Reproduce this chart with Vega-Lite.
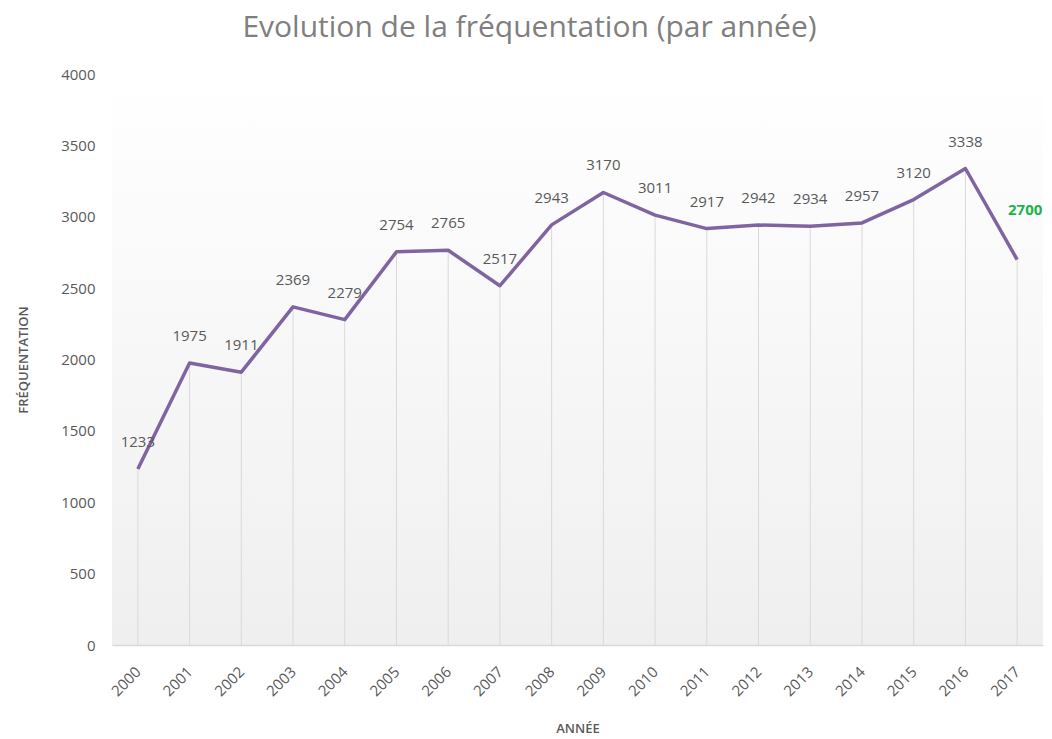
{
  "$schema": "https://vega.github.io/schema/vega-lite/v6.json",
  "width": 931,
  "height": 571,
  "autosize": {"type": "none"},
  "padding": {"left": 112, "top": 74, "right": 9, "bottom": 94},
  "background": "white",
  "title": {
    "text": "Evolution de la fréquentation (par année)",
    "font": "Open Sans",
    "fontSize": 30,
    "fontWeight": "normal",
    "color": "#7f7f7f",
    "anchor": "middle",
    "dx": -48,
    "offset": 24
  },
  "config": {
    "view": {
      "stroke": null,
      "fill": {
        "gradient": "linear",
        "x1": 0, "y1": 0, "x2": 0, "y2": 1,
        "stops": [
          {"offset": 0, "color": "#ffffff"},
          {"offset": 1, "color": "#efefef"}
        ]
      }
    },
    "axis": {
      "labelFont": "Open Sans",
      "titleFont": "Open Sans",
      "labelColor": "#595959",
      "titleColor": "#595959",
      "labelFontSize": 15,
      "titleFontSize": 13,
      "titleFontWeight": 600,
      "grid": false
    }
  },
  "data": {
    "values": [
      {"annee": "2000", "frequentation": 1233},
      {"annee": "2001", "frequentation": 1975},
      {"annee": "2002", "frequentation": 1911},
      {"annee": "2003", "frequentation": 2369},
      {"annee": "2004", "frequentation": 2279},
      {"annee": "2005", "frequentation": 2754},
      {"annee": "2006", "frequentation": 2765},
      {"annee": "2007", "frequentation": 2517},
      {"annee": "2008", "frequentation": 2943},
      {"annee": "2009", "frequentation": 3170},
      {"annee": "2010", "frequentation": 3011},
      {"annee": "2011", "frequentation": 2917},
      {"annee": "2012", "frequentation": 2942},
      {"annee": "2013", "frequentation": 2934},
      {"annee": "2014", "frequentation": 2957},
      {"annee": "2015", "frequentation": 3120},
      {"annee": "2016", "frequentation": 3338},
      {"annee": "2017", "frequentation": 2700}
    ]
  },
  "encoding": {
    "x": {
      "field": "annee",
      "type": "ordinal",
      "scale": {"type": "point", "padding": 0.5},
      "axis": {
        "title": "ANNÉE",
        "labelAngle": -45,
        "labelAlign": "right",
        "labelBaseline": "middle",
        "labelPadding": 24,
        "ticks": false,
        "domainColor": "#d9d9d9",
        "domainWidth": 1.5,
        "titlePadding": 24
      }
    },
    "y": {
      "field": "frequentation",
      "type": "quantitative",
      "scale": {"domain": [0, 4000]},
      "axis": {
        "title": "FRÉQUENTATION",
        "format": "d",
        "values": [0, 500, 1000, 1500, 2000, 2500, 3000, 3500, 4000],
        "domain": false,
        "ticks": false,
        "labelPadding": 17,
        "titlePadding": 30
      }
    }
  },
  "layer": [
    {
      "mark": {"type": "rule", "color": "#d9d9d9", "strokeWidth": 1},
      "encoding": {"y2": {"datum": 0}}
    },
    {
      "mark": {"type": "line", "color": "#8064a2", "strokeWidth": 3.5, "strokeJoin": "round"}
    },
    {
      "transform": [{"filter": "datum.annee != '2017'"}],
      "mark": {"type": "text", "font": "Open Sans", "fontSize": 15, "color": "#595959", "dy": -27, "baseline": "middle"},
      "encoding": {"text": {"field": "frequentation", "type": "quantitative", "format": "d"}}
    },
    {
      "transform": [{"filter": "datum.annee == '2017'"}],
      "mark": {"type": "text", "font": "Open Sans", "fontSize": 15, "fontWeight": "bold", "color": "#22b14c", "dy": -50, "dx": 8, "baseline": "middle"},
      "encoding": {"text": {"field": "frequentation", "type": "quantitative", "format": "d"}}
    }
  ]
}
